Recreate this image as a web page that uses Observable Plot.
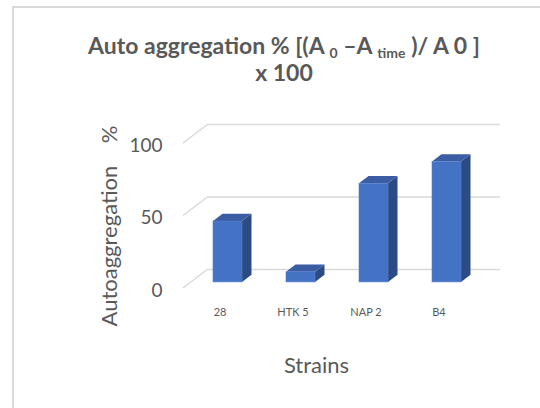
<!DOCTYPE html>
<html><head><meta charset="utf-8">
<script src="https://cdn.jsdelivr.net/npm/d3@7"></script>
<script src="https://cdn.jsdelivr.net/npm/@observablehq/plot@0.6"></script>
<style>
body{margin:0;background:#fff;}
#wrap{position:relative;width:540px;height:408px;overflow:hidden;font-family:Lato,sans-serif;}
#border{position:absolute;left:12px;top:6px;width:600px;height:500px;border-left:2px solid #d9d9d9;border-top:2px solid #d9d9d9;}
#title{position:absolute;left:14px;width:540px;top:32px;text-align:center;font-weight:bold;font-size:23px;line-height:27px;color:#595959;}
#title sub{font-size:14px;vertical-align:-4px;line-height:0;}
#chart{position:absolute;left:0;top:0;}
</style></head><body>
<div id="wrap"><div id="border"></div><div id="chart"></div>
<div id="title">Auto aggregation % [(A <sub>0</sub> –A <sub>time</sub> )/ A 0 ]<br>x 100</div></div>
<script>
const strains = ["28", "HTK 5", "NAP 2", "B4"];
const values = [42, 7, 68, 83];
const yTicks = [0, 50, 100];
const xLabel = "Strains";
const yLabel = "Autoaggregation\u00a0\u00a0\u00a0 %";

const data = strains.map((s, i) => ({strain: s, value: values[i]}));
const DX = 25, DY = -19;      // 3D depth of the plot box
const F1 = 0.32, F2 = 0.70;   // bar depth fractions
const grid = "#d9d9d9", ink = "#595959";

function faces(index, scales, values_, dimensions) {
  const x = scales.x, y = scales.y;
  const bw = x.bandwidth();
  const g = d3.create("svg:g");
  const left = dimensions.marginLeft;
  for (const t of yTicks) {
    g.append("line").attr("x1", left).attr("y1", y(t)).attr("x2", left + DX).attr("y2", y(t) + DY)
      .attr("stroke", grid).attr("stroke-width", 1.5);
  }
  const ddx = (F2 - F1) * DX, ddy = (F2 - F1) * DY;
  for (const d of data) {
    const x0 = x(d.strain) + F1 * DX, x1 = x0 + bw;
    const y0 = y(0) + F1 * DY, yv = y(d.value) + F1 * DY;
    g.append("path").attr("d", `M${x1},${yv}L${x1 + ddx},${yv + ddy}L${x1 + ddx},${y0 + ddy}L${x1},${y0}Z`).attr("fill", "#2C4B84");
    g.append("path").attr("d", `M${x0},${yv}L${x0 + ddx},${yv + ddy}L${x1 + ddx},${yv + ddy}L${x1},${yv}Z`).attr("fill", "#3A5DA3");
  }
  return g.node();
}

const chart = Plot.plot({
  width: 540, height: 408,
  marginLeft: 183, marginRight: 65, marginTop: 143, marginBottom: 120,
  style: {fontFamily: "Lato, sans-serif", color: ink, background: "transparent"},
  x: {domain: strains, paddingInner: 0.6, paddingOuter: 0.3, axis: null},
  y: {domain: [0, 100], axis: null},
  marks: [
    Plot.ruleY(yTicks, {y: d => d, dx: DX, dy: DY, stroke: grid, strokeWidth: 1.5}),
    faces,
    Plot.barY(data, {x: "strain", y: "value", fill: "#4472C4", stroke: "#5580CC", strokeWidth: 0.6, dx: F1 * DX, dy: F1 * DY}),
    Plot.text(strains, {x: d => d, frameAnchor: "bottom", dy: 24, lineAnchor: "middle", fontSize: 11, fill: ink}),
    Plot.text(yTicks, {y: d => d, frameAnchor: "left", dx: -21, dy: 2, textAnchor: "end", lineAnchor: "middle", fontSize: 19, fill: ink}),
    Plot.text([xLabel], {frameAnchor: "bottom", dx: -13, dy: 77, textAnchor: "middle", lineAnchor: "middle", fontSize: 22, fill: ink}),
    Plot.text([yLabel], {frameAnchor: "left", rotate: -90, dx: -74, dy: 10, textAnchor: "middle", lineAnchor: "middle", fontSize: 22, fill: ink})
  ]
});
document.getElementById("chart").append(chart);
</script>
</body></html>
